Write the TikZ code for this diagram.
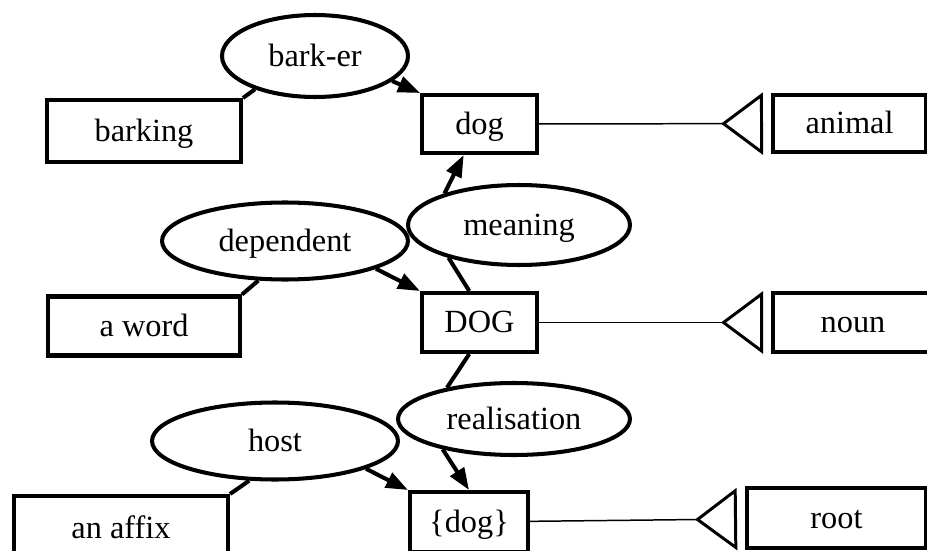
\documentclass[tikz,border=0pt]{standalone}
\usepackage{fontspec}
\setmainfont{Liberation Serif}
\usetikzlibrary{arrows.meta, shapes.geometric}

\begin{document}
\begin{tikzpicture}[
  x=0.02cm, y=-0.02cm,
  font=\fontsize{18.4pt}{22pt}\selectfont,
  every node/.style={text height=13pt, text depth=1.6pt},
  wordbox/.style={
    draw,
    rectangle,
    line width=2.3pt,
    inner sep=0pt,
    minimum height=1.18cm
  },
  relation/.style={
    draw,
    ellipse,
    line width=2.3pt,
    inner sep=0pt,
    fill=white
  },
  link/.style={
    line width=2.3pt
  },
  arrow/.style={
    -{Triangle[length=4.4mm,width=3.2mm]},
    line width=2.3pt
  },
  isa/.style={
    -{Triangle[open,reversed,length=8.4mm,width=12.4mm,line width=1.7pt]},
    line width=0.85pt,
    shorten >=0.16cm
  }
]

\useasboundingbox (0,0) rectangle (927,551);

% words
\node[wordbox, minimum width=3.88cm, minimum height=1.24cm] (barking) at (144,131) {barking};
\node[wordbox, minimum width=2.3cm, minimum height=1.16cm] (dog) at (479.5,124) {dog};
\node[wordbox, minimum width=3.06cm, minimum height=1.14cm] (animal) at (849.5,123.5) {animal};

\node[wordbox, minimum width=3.84cm] (aword) at (144,326) {a word};
\node[wordbox, minimum width=2.3cm] (DOG) at (479.5,322.5) {DOG};
\node[wordbox, minimum width=3.2cm] (noun) at (853,322.5) {noun};

\node[wordbox, minimum width=4.28cm, minimum height=1.28cm] (affix) at (121,528) {an affix};
\node[wordbox, minimum width=2.36cm, minimum height=1.2cm] (form) at (469,522) {\{dog\}};
\node[wordbox, minimum width=3.58cm, minimum height=1.2cm] (root) at (836.5,518) {root};

% relations
\node[relation, minimum width=3.72cm, minimum height=1.64cm] (barker) at (315,56) {bark-er};
\node[relation, minimum width=4.92cm, minimum height=1.54cm] (dependent) at (285,241) {dependent};
\node[relation, minimum width=4.44cm, minimum height=1.6cm] (meaning) at (519,225) {meaning};
\node[relation, minimum width=4.64cm, minimum height=1.44cm] (realisation) at (514,419) {realisation};
\node[relation, minimum width=4.92cm, minimum height=1.54cm] (host) at (275,441) {host};

\draw[link] (barker.209) -- (barking.north east);
\draw[arrow] (barker.-18) -- (dog.north west);
\draw[link] (dependent.236) -- (aword.north east);
\draw[arrow] (dependent.-17) -- (DOG.north west);
\draw[link] (host.237) -- (affix.north east);
\draw[arrow] (host.-17) -- (form.north west);

\draw[link] (DOG.108) -- (meaning.205);
\draw[arrow] (meaning.157) -- (dog.243);
\draw[link] (DOG.252) -- (realisation.155);
\draw[arrow] (realisation.203) -- (form.north);

% isa
\draw[isa] (dog) -- (animal);
\draw[isa] (DOG) -- (noun);
\draw[isa] (form) -- (root);

\end{tikzpicture}
\end{document}
